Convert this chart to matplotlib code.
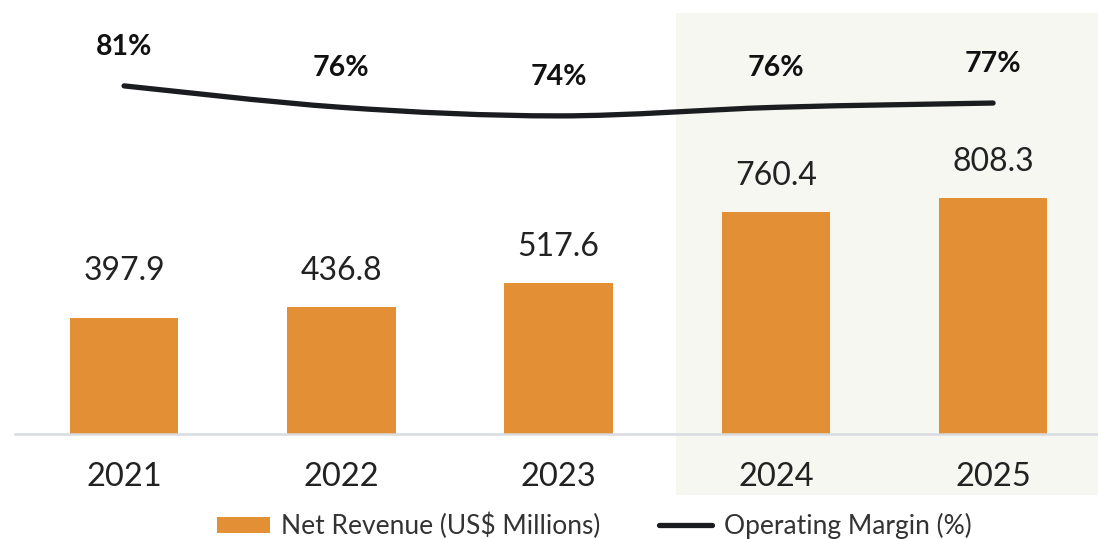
import numpy as np
from matplotlib import pyplot as plt
from matplotlib.path import Path
from matplotlib.patches import PathPatch, Patch
from matplotlib.lines import Line2D

years = ['2021', '2022', '2023', '2024', '2025']
net_revenue = [397.9, 436.8, 517.6, 760.4, 808.3]
op_margin = [81, 76, 74, 76, 77]
revenue_labels = ['397.9', '436.8', '517.6', '760.4', '808.3']
margin_labels = ['81%', '76%', '74%', '76%', '77%']

plt.rcParams['font.family'] = ['Lato', 'DejaVu Sans']

BAR_COLOR = '#e28f35'
LINE_COLOR = '#1b1c20'
TEXT_COLOR = '#222222'

fig = plt.figure(figsize=(10.98, 5.39), dpi=100)
ax = fig.add_axes([15/1098, (539-434)/539, (1098-15)/1098, 421/539])
x = np.arange(len(years))

ax.set_xlim(-0.502, 4.483)
ax.set_ylim(0, 1444)

# highlighted forecast area
ax.axvspan(2.54, 5, ymin=-0.145, ymax=1, color='#f6f7f1', clip_on=False, zorder=0, lw=0)

ax.bar(x, net_revenue, width=0.5, color=BAR_COLOR, zorder=2)
for xi, v, lab in zip(x, net_revenue, revenue_labels):
    ax.annotate(lab, (xi, max(v, 436.8)), xytext=(0, 21), textcoords='offset pixels',
                ha='center', va='bottom', fontsize=23, color=TEXT_COLOR)

for s in ['top', 'right', 'left']:
    ax.spines[s].set_visible(False)
ax.spines['bottom'].set_color('#d8dbe0')
ax.spines['bottom'].set_linewidth(1.8)
ax.set_yticks([])
ax.set_xticks(x)
ax.set_xticklabels(years, fontsize=23.5, color=TEXT_COLOR)
ax.tick_params(axis='x', length=0, pad=20)

# margin line on its own scale, drawn as a smooth curve through the points
ax2 = ax.twinx()
ax2.set_ylim(-0.2, 98.0)
ax2.set_yticks([])
for s in ax2.spines.values():
    s.set_visible(False)

pts = np.column_stack([x, op_margin]).astype(float)
verts = [tuple(pts[0])]
codes = [Path.MOVETO]
for i in range(len(pts) - 1):
    p0 = pts[max(i - 1, 0)]
    p1 = pts[i]
    p2 = pts[i + 1]
    p3 = pts[min(i + 2, len(pts) - 1)]
    c1 = p1 + (p2 - p0) / 6
    c2 = p2 - (p3 - p1) / 6
    verts += [tuple(c1), tuple(c2), tuple(p2)]
    codes += [Path.CURVE4] * 3
curve = PathPatch(Path(verts, codes), fill=False, edgecolor=LINE_COLOR, lw=3.8,
                  capstyle='round', joinstyle='round', transform=ax2.transData, zorder=3)
ax2.add_patch(curve)

for xi, m, lab in zip(x, op_margin, margin_labels):
    ax2.annotate(lab, (xi, m), xytext=(0, 39), textcoords='offset pixels',
                 ha='center', va='center', fontsize=20.5, fontweight='bold', color='#111111')

handles = [Patch(facecolor=BAR_COLOR, edgecolor='none'),
           Line2D([0], [0], color=LINE_COLOR, lw=3.8, solid_capstyle='round')]
fig.legend(handles, ['Net Revenue (US$ Millions)', 'Operating Margin (%)'],
           loc='center', bbox_to_anchor=(0.541, (539-526)/539), ncol=2, frameon=False,
           fontsize=19, handlelength=2.0, handleheight=0.6, handletextpad=0.45,
           columnspacing=2.2, labelcolor='#333333', borderpad=0)

fig.savefig('out.png', dpi=100)
